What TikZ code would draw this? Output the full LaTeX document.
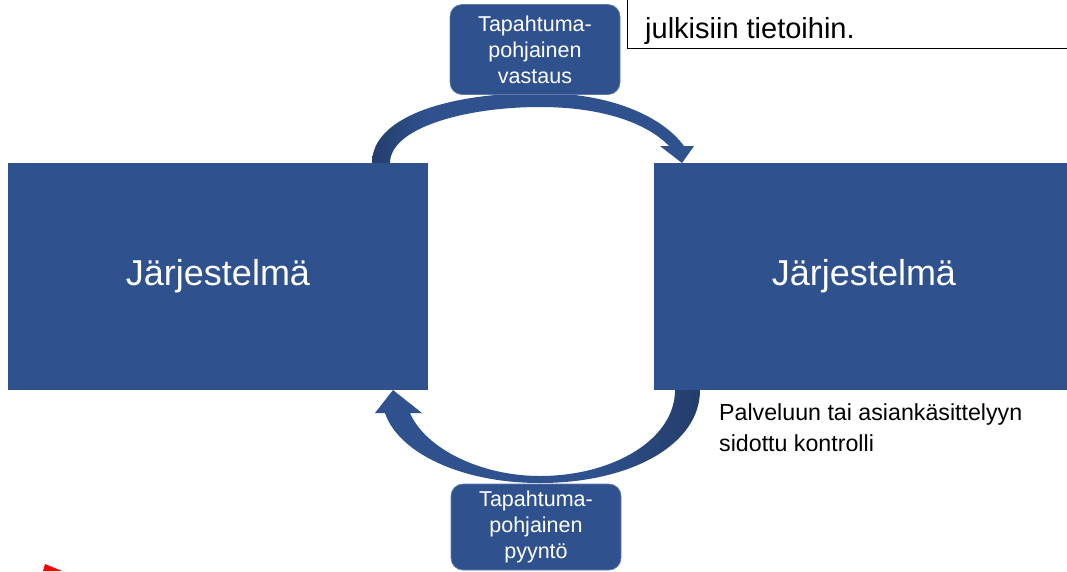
\documentclass[tikz,border=0pt]{standalone}
\usepackage{fontspec}
\setmainfont{Liberation Sans}
\definecolor{boxblue}{HTML}{2F528F}
\definecolor{arcdark}{HTML}{243E6C}
\pgfdeclarehorizontalshading{topshade}{100bp}{color(0bp)=(arcdark); color(25bp)=(arcdark); color(34bp)=(boxblue); color(100bp)=(boxblue)}
\pgfdeclarehorizontalshading{botshade}{100bp}{color(0bp)=(boxblue); color(58bp)=(boxblue); color(74bp)=(arcdark); color(100bp)=(arcdark)}
\begin{document}
\begin{tikzpicture}[x=1pt,y=-1pt,
  bigbox/.style={fill=boxblue, draw=none, minimum width=420pt, minimum height=227pt, text=white, font=\fontsize{36}{40}\selectfont, inner sep=0pt},
  smallbox/.style={fill=boxblue, draw=boxblue!75!white, line width=0.6pt, rounded corners=12pt, minimum width=170pt, text=white, align=center, font=\fontsize{21.5}{26}\selectfont, inner sep=0pt},
  plaintext/.style={text=black, align=left, inner sep=0pt}]
\useasboundingbox (0,0) rectangle (1067,571);
\fill[white] (0,0) rectangle (1067,571);

% top curved arrow
\shade[shading=topshade]
  (372,163) .. controls (372,118) and (445,93) .. (540,93)
  .. controls (610,93) and (662,116) .. (684,146)
  -- (694,146) -- (682,163) -- (660,146) -- (669,146)
  .. controls (647,123) and (602,107) .. (540,107)
  .. controls (465,107) and (390,128) .. (390,163) -- cycle;

% bottom curved arrow
\shade[shading=botshade]
  (700,390) .. controls (700,445) and (630,483) .. (540,483)
  .. controls (460,483) and (398,452) .. (385,413)
  -- (375,413) -- (393,390) -- (422,413) -- (410,413)
  .. controls (425,448) and (480,476) .. (540,476)
  .. controls (612,476) and (675,440) .. (675,390) -- cycle;

\node[bigbox] (sysL) at (218,276.5) {Järjestelmä};
\node[bigbox] (sysR) at (864,276.5) {Järjestelmä};

\node[smallbox, minimum height=90pt] (resp) at (535,49.5) {Tapahtuma-\\pohjainen\\vastaus};
\node[smallbox, minimum height=86pt] (req) at (536,527) {Tapahtuma-\\pohjainen\\pyyntö};

% top-right note box
\draw[black, line width=0.8pt, fill=white] (627,-10) rectangle (1080,48.5);
\node[plaintext, anchor=base west, font=\fontsize{29}{34}\selectfont] (note) at (645,38) {julkisiin tietoihin.};

\node[plaintext, anchor=north west, font=\fontsize{23.2}{31}\selectfont] (ctrl) at (719,403.5) {Palveluun tai asiankäsittelyyn\\sidottu kontrolli};

% red fragment bottom-left
\fill[red] (43,571) -- (45,564) -- (62,571) -- cycle;
\end{tikzpicture}
\end{document}
